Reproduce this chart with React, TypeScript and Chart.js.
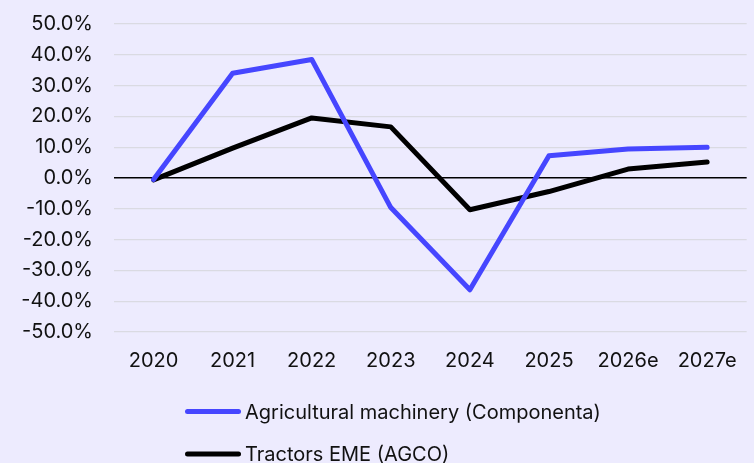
import React, { useEffect, useRef } from "react";
import { Chart, registerables } from "chart.js";

Chart.register(...registerables);

const categories = ["2020", "2021", "2022", "2023", "2024", "2025", "2026e", "2027e"];
const agriculturalMachinery = [-0.5, 34.0, 38.5, -9.6, -36.3, 7.2, 9.4, 10.0];
const tractorsEME = [-0.6, 9.7, 19.5, 16.6, -10.3, -4.4, 2.9, 5.2];
const seriesLabels = ["Agricultural machinery (Componenta)", "Tractors EME (AGCO)"];
const seriesColors = ["#4646FF", "#000000"];

const FONT = "Inter, 'DejaVu Sans', sans-serif";
const FONT_SIZE = 20;
const BG = "#EDEBFE";

const legendPlugin = {
  id: "customLegend",
  afterDraw(chart: any) {
    const ctx = chart.ctx;
    const x0 = chart.chartArea.left + 71;
    const ys = [411.5, 454];
    ctx.save();
    chart.data.datasets.forEach((ds: any, i: number) => {
      const y = ys[i];
      ctx.strokeStyle = ds.borderColor;
      ctx.lineWidth = 5;
      ctx.lineCap = "round";
      ctx.beginPath();
      ctx.moveTo(x0 + 2.5, y);
      ctx.lineTo(x0 + 53.5, y);
      ctx.stroke();
      ctx.fillStyle = "#111111";
      ctx.font = `${FONT_SIZE}px ${FONT}`;
      ctx.textBaseline = "middle";
      ctx.textAlign = "left";
      ctx.fillText(ds.label, x0 + 60, y + 1);
    });
    ctx.restore();
  },
};

export default function App() {
  const ref = useRef<HTMLCanvasElement | null>(null);
  useEffect(() => {
    document.body.style.margin = "0";
    document.body.style.background = BG;
    const chart = new Chart(ref.current as HTMLCanvasElement, {
      type: "line",
      data: {
        labels: categories,
        datasets: [
          {
            label: seriesLabels[0],
            data: agriculturalMachinery,
            borderColor: seriesColors[0],
            backgroundColor: seriesColors[0],
            borderWidth: 5,
            pointRadius: 0,
            borderCapStyle: "round",
            borderJoinStyle: "round",
            tension: 0,
          },
          {
            label: seriesLabels[1],
            data: tractorsEME,
            borderColor: seriesColors[1],
            backgroundColor: seriesColors[1],
            borderWidth: 5,
            pointRadius: 0,
            borderCapStyle: "round",
            borderJoinStyle: "round",
            tension: 0,
          },
        ],
      },
      options: {
        animation: false,
        responsive: false,
        maintainAspectRatio: false,
        layout: { padding: { top: 24, right: 6, left: 0, bottom: 0 } },
        plugins: {
          legend: { display: false },
          tooltip: { enabled: false },
        },
        scales: {
          x: {
            offset: true,
            grid: { display: false, drawTicks: false },
            border: { display: false },
            ticks: {
              color: "#111111",
              font: { family: FONT, size: FONT_SIZE },
              padding: 17,
              maxRotation: 0,
            },
            afterFit: (scale: any) => {
              scale.height = 131;
            },
          },
          y: {
            min: -50,
            max: 50,
            grid: {
              drawTicks: true,
              tickLength: 21,
              tickColor: "rgba(0,0,0,0)",
              color: (c: any) => (c.tick && c.tick.value === 0 ? "#000000" : "#DADAE2"),
              lineWidth: (c: any) => (c.tick && c.tick.value === 0 ? 1.5 : 1.2),
            },
            border: { display: false },
            ticks: {
              stepSize: 10,
              color: "#111111",
              font: { family: FONT, size: FONT_SIZE },
              padding: 0,
              callback: (v: any) => Number(v).toFixed(1) + "%",
            },
            afterFit: (scale: any) => {
              scale.width = 114;
            },
          },
        },
      },
      plugins: [legendPlugin],
    } as any);
    return () => chart.destroy();
  }, []);
  return (
    <div style={{ width: 754, height: 463, background: BG }}>
      <canvas ref={ref} width={754} height={463} style={{ display: "block" }} />
    </div>
  );
}
